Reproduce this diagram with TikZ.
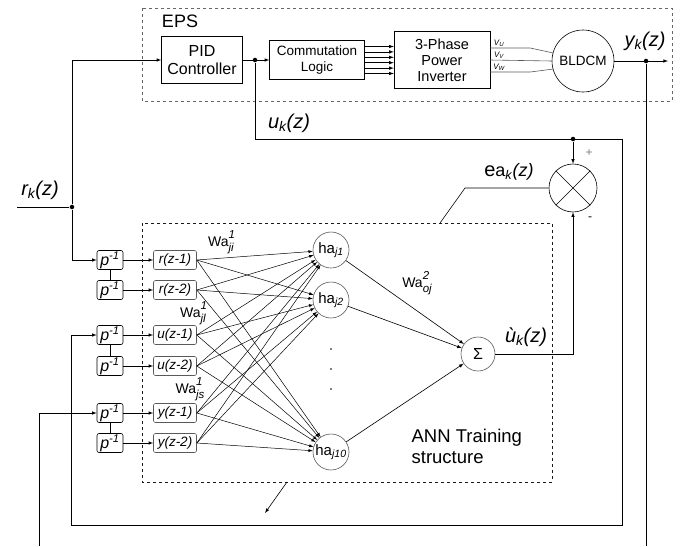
\documentclass[tikz,border=0pt]{standalone}
\usepackage{fontspec}
\setmainfont{Liberation Sans}
\newcommand{\sgn}[2]{\textit{#1\textsubscript{#2}(z)}}
\newcommand{\wgt}[2]{Wa{\itshape\fontsize{11.5}{11.5}\selectfont\raisebox{7.5pt}{\rlap{#1}}\raisebox{-5pt}{#2}}}
\newcommand{\hlab}[1]{ha\textsubscript{\textit{#1}}}
\newcommand{\dlab}{\textit{p}\textsuperscript{\textit{-1}}}
\tikzset{
  blk/.style={draw, thin, align=center, inner sep=1pt},
  dly/.style={draw, rounded corners=2pt, minimum width=26pt, minimum height=19pt, inner sep=0pt, font=\fontsize{16}{16}\selectfont},
  inp/.style={draw=gray!70!black, rounded corners=2pt, minimum width=43pt, minimum height=19pt, inner sep=0pt, font=\itshape\fontsize{13.5}{13.5}\selectfont},
  hid/.style={draw=gray!70!black, circle, minimum size=36pt, inner sep=0pt, font=\fontsize{15}{15}\selectfont},
  jn/.style={circle, fill, inner sep=1.6pt},
  big/.style={font=\fontsize{20}{20}\selectfont},
  wlab/.style={font=\fontsize{14}{14}\selectfont}
}
\begin{document}
\begin{tikzpicture}[x=1pt, y=-1pt, >=latex, line width=0.6pt]
  \useasboundingbox (0, 0) rectangle (684, 546);
  % EPS part
  \draw[dashed, gray!80!black] (142, 8) rectangle (672, 101);
  \node at (180, 21) [font=\fontsize{18}{18}\selectfont] {EPS};
  \node (pid) at (202, 60) [blk, minimum width=81pt, minimum height=47pt, font=\fontsize{16}{18}\selectfont] {PID\\Controller};
  \node (comm) at (317, 60) [blk, minimum width=95pt, minimum height=39pt, font=\fontsize{13.5}{16}\selectfont] {Commutation\\Logic};
  \node (inv) at (442, 60) [blk, minimum width=96pt, minimum height=57pt, font=\fontsize{14.5}{16}\selectfont] {3-Phase\\Power\\Inverter};
  \node (bldcm) at (583, 61) [draw, circle, minimum size=62pt, inner sep=0pt, font=\fontsize{13.5}{13.5}\selectfont] {BLDCM};
  \foreach \y in {-13.5, -8.1, -2.7, 2.7, 8.1, 13.5} {
    \draw[->] ([yshift=\y pt]comm.east) -- ([yshift=\y pt]inv.west);
  }
  \draw[gray!70!black] ([yshift=12pt]inv.east) -- ++(40, 0) -- (bldcm.165);
  \draw[gray!70!black] (inv.east) -- (bldcm.west);
  \draw[gray!70!black] ([yshift=-12pt]inv.east) -- ++(40, 0) -- (bldcm.195);
  \node at (499, 43) [font=\itshape\fontsize{8}{8}\selectfont] {V\textsubscript{U}};
  \node at (499, 55) [font=\itshape\fontsize{8}{8}\selectfont] {V\textsubscript{V}};
  \node at (499, 67) [font=\itshape\fontsize{8}{8}\selectfont] {V\textsubscript{W}};
  \coordinate (yo) at (668, 61);
  \node (yj) at (646, 61) [jn] {};
  \draw[->] (bldcm.east) -- (yo);
  \node at (645, 41) [big] {\sgn{y}{k}};
  \node (uj) at (255, 60) [jn] {};
  \draw[->] (pid.east) -- (comm.west);
  % reference input
  \coordinate (rin) at (17, 207);
  \node (rj) at (72, 207) [jn] {};
  \draw (rin) -- (rj);
  \draw[->] (rj) |- (pid.west);
  \node at (40, 190) [big] {\sgn{r}{k}};
  % delay blocks and inputs
  \foreach \n/\y/\t in {1/260/r(z-1), 2/290/r(z-2), 3/335/u(z-1), 4/366/u(z-2), 5/413/y(z-1), 6/443/y(z-2)} {
    \node (p\n) at (110, \y) [dly] {\dlab};
    \node (i\n) at (175, \y) [inp] {\t};
    \draw[->] (p\n) -- (i\n);
  }
  \draw[->] (rj) |- (p1.west);
  \draw (p1) -- (p2);
  \draw (p3) -- (p4);
  \draw (p5) -- (p6);
  % ANN
  \draw[dashed, gray!20!black] (142, 223) rectangle (552, 482);
  \node at (408, 446) [anchor=west, align=left, font=\fontsize{18.5}{21}\selectfont] {ANN Training\\structure};
  \node (h1) at (331, 250) [hid] {\hlab{j1}};
  \node (h2) at (331, 300) [hid] {\hlab{j2}};
  \node (h3) at (331, 452) [hid] {\hlab{j10}};
  \foreach \y in {349, 369, 389} {
    \fill (331, \y) circle (0.8pt);
  }
  \foreach \n in {1, ..., 6} {
    \foreach \h in {h1, h2, h3} {
      \draw[->, line width=0.5pt] (i\n.east) -- (\h);
    }
  }
  \node (sig) at (478, 354) [draw=gray!70!black, circle, minimum size=34pt, inner sep=0pt, font=\fontsize{16}{16}\selectfont] {Σ};
  \draw[->] (h1) -- (sig);
  \draw[->] (h2) -- (sig);
  \draw[->] (h3) -- (sig);
  \node at (221, 242) [wlab] {\wgt{1}{ji}};
  \node at (193, 313) [wlab] {\wgt{1}{jl}};
  \node at (190, 389) [wlab] {\wgt{1}{js}};
  \node at (417, 283) [wlab] {\wgt{2}{oj}};
  \node at (526, 337) [big] {\textit{\`u\textsubscript{k}(z)}};
  % error junction
  \node (err) at (573, 188) [draw, circle, minimum size=48pt, inner sep=0pt] {};
  \draw (err.45) -- (err.225);
  \draw (err.135) -- (err.315);
  \node at (589, 153) [font=\fontsize{12}{12}\selectfont, gray] {+};
  \node at (590, 219) [font=\fontsize{12}{12}\selectfont] {-};
  \draw[->] (sig.east) -| (err.south);
  \coordinate (eb) at (465, 188);
  \coordinate (ea) at (440, 223);
  \draw (err.west) -- (eb) -- (ea);
  \node at (509, 172) [big] {e\fontsize{18}{18}\selectfont a\textsubscript{\textit{k}}\textit{(z)}};
  \coordinate (ao) at (287, 482);
  \coordinate (ae) at (265, 513);
  \draw[->] (ao) -- (ae);
  % control signal feedback
  \node (sj) at (573, 139) [jn] {};
  \coordinate (uc) at (622, 139);
  \coordinate (ud) at (622, 525);
  \coordinate (ul) at (71, 525);
  \draw (uj) |- (uc) -- (ud) -- (ul);
  \draw[->] (ul) |- (p3.west);
  \draw[->] (sj) -- (err.north);
  \node at (289, 123) [big] {\sgn{u}{k}};
  % output feedback
  \coordinate (yb) at (646, 546);
  \coordinate (yl) at (39, 546);
  \draw (yj) -- (yb);
  \draw[->] (yl) |- (p5.west);
\end{tikzpicture}
\end{document}
